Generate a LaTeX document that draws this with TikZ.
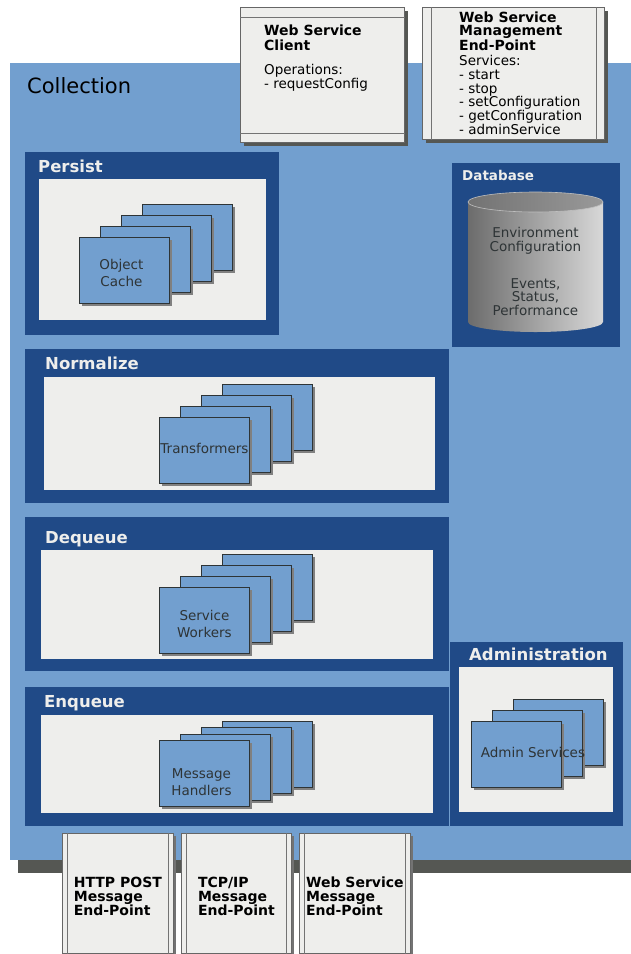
\documentclass[tikz,border=0pt]{standalone}
\usepackage{fontspec}
\setmainfont{DejaVu Sans}
\usetikzlibrary{shadows}

\definecolor{skyblue}{HTML}{729FCF}
\definecolor{navy}{HTML}{204A87}
\definecolor{paper}{HTML}{EEEEEC}
\definecolor{slate}{HTML}{555753}
\definecolor{ink}{HTML}{2E3436}
\definecolor{cylL}{HTML}{6C6C6C}
\definecolor{cylR}{HTML}{D8D8D8}

\begin{document}
\begin{tikzpicture}[x=1pt,y=-1pt,
  panel/.style={fill=navy, draw=none, inner sep=0pt, anchor=north west},
  well/.style={fill=paper, draw=none, inner sep=0pt, anchor=north west},
  card/.style={draw=ink, line width=0.9pt, fill=skyblue, inner sep=0pt,
    minimum width=90pt, minimum height=66pt, anchor=north west,
    drop shadow={shadow xshift=3pt, shadow yshift=-3pt, fill=black!50, opacity=1}},
  cardtext/.style={align=center, text=ink, inner sep=0pt,
    font=\fontsize{13.5}{17}\selectfont},
  title/.style={anchor=base west, inner sep=0pt, text=paper,
    font=\fontsize{16.5}{18}\selectfont\bfseries},
  sheet/.style={fill=paper, draw=black!60, line width=0.8pt, inner sep=0pt,
    anchor=north west,
    drop shadow={shadow xshift=4pt, shadow yshift=-4pt, fill=slate, opacity=1}},
  endpoint/.style={fill=paper, draw=black!60, line width=0.8pt, inner sep=0pt,
    anchor=north west, minimum height=120pt,
    drop shadow={shadow xshift=3pt, shadow yshift=-3pt, fill=black!55, opacity=1}},
  sheetline/.style={draw=black!55, line width=0.7pt},
  eptext/.style={align=left, inner sep=0pt, text=black,
    font=\fontsize{14}{14}\selectfont\bfseries},
]
\useasboundingbox (0,0) rectangle (631,954);

% outer container with its shadow
\fill[slate] (18,76) rectangle (640,873);
\node[panel, fill=skyblue, minimum width=630pt, minimum height=797pt] (collection) at (10,63) {};
\node[anchor=base west, inner sep=0pt, text=black, font=\fontsize{21}{24}\selectfont] (collectiontitle) at (27,93) {Collection};

% Persist
\node[panel, minimum width=254pt, minimum height=183pt] (persist) at (25,152) {};
\node[well, minimum width=227pt, minimum height=141pt] (persistwell) at (39,179) {};
\node[title] (persisttitle) at (38,172) {Persist};
\foreach \i/\x/\y in {4/142/204, 3/121/215, 2/100/226, 1/79/237}
  \node[card] (cache\i) at (\x,\y) {};
\node[cardtext] (cachetext) at ([xshift=-3pt, yshift=-3pt]cache1.center) {Object\\Cache};

% Database
\node[panel, minimum width=168pt, minimum height=184pt] (database) at (452,163) {};
\node[title, font=\fontsize{13.5}{16}\selectfont\bfseries] (dbtitle) at (462,180) {Database};
\shade[left color=cylL, right color=cylR]
  (468,202) -- (468,322) arc[start angle=180, end angle=360, x radius=67.5pt, y radius=10pt]
  -- (603,202) -- cycle;
\shade[left color=black!55, right color=black!40, draw=black!25, line width=0.6pt]
  (535.5,202) ellipse [x radius=67.5pt, y radius=10pt];
\node[cardtext, font=\fontsize{13.5}{14}\selectfont] (envtext) at (535.5,241) {Environment\\Configuration};
\node[cardtext, font=\fontsize{13.5}{13.6}\selectfont] (eventtext) at (535.5,297) {Events,\\Status,\\Performance};

% Normalize
\node[panel, minimum width=424pt, minimum height=154pt] (normalize) at (25,349) {};
\node[well, minimum width=391pt, minimum height=113pt] (normalizewell) at (44,377) {};
\node[title] (normalizetitle) at (45,369) {Normalize};
\foreach \i/\x/\y in {4/222/384, 3/201/395, 2/180/406, 1/159/417}
  \node[card] (trans\i) at (\x,\y) {};
\node[cardtext] (transtext) at ([yshift=2pt]trans1.center) {Transformers};

% Dequeue
\node[panel, minimum width=424pt, minimum height=154pt] (dequeue) at (25,517) {};
\node[well, minimum width=392pt, minimum height=109pt] (dequeuewell) at (41,550) {};
\node[title] (dequeuetitle) at (45,543) {Dequeue};
\foreach \i/\x/\y in {4/222/554, 3/201/565, 2/180/576, 1/159/587}
  \node[card] (worker\i) at (\x,\y) {};
\node[cardtext] (workertext) at ([yshift=-3.5pt]worker1.center) {Service\\Workers};

% Enqueue
\node[panel, minimum width=424pt, minimum height=139pt] (enqueue) at (25,687) {};
\node[well, minimum width=392pt, minimum height=98pt] (enqueuewell) at (41,715) {};
\node[title] (enqueuetitle) at (44,707) {Enqueue};
\foreach \i/\x/\y in {4/222/721, 3/201/727, 2/180/734, 1/159/740}
  \node[card] (handler\i) at (\x,\y) {};
\node[cardtext] (handlertext) at ([xshift=-3pt, yshift=-8.5pt]handler1.center) {Message\\Handlers};

% Administration
\node[panel, minimum width=173pt, minimum height=184pt] (admin) at (450,642) {};
\node[well, minimum width=154pt, minimum height=145pt] (adminwell) at (459,667) {};
\node[title] (admintitle) at (469,660) {Administration};
\foreach \i/\x/\y in {3/513/699, 2/492/710, 1/471/721}
  \node[card] (adminsvc\i) at (\x,\y) {};
\node[cardtext] (adminsvctext) at ([xshift=16.5pt, yshift=2pt]adminsvc1.center) {Admin Services};

% Web service client
\node[sheet, minimum width=164pt, minimum height=135pt] (client) at (240,7) {};
\draw[sheetline] ([yshift=-10pt]client.north west) -- ([yshift=-10pt]client.north east);
\draw[sheetline] ([yshift=9pt]client.south west) -- ([yshift=9pt]client.south east);
\node[anchor=north west, align=left, inner sep=0pt, text=black,
  font=\fontsize{14}{14.5}\selectfont\bfseries] (clienttitle) at (264,25) {Web Service\\Client};
\node[anchor=north west, align=left, inner sep=0pt, text=black,
  font=\fontsize{13.5}{14}\selectfont] (clientops) at (264,64) {Operations:\\- requestConfig};

% Web service management end-point
\node[sheet, minimum width=182pt, minimum height=132pt] (mgmt) at (422,7) {};
\draw[sheetline] ([xshift=9pt]mgmt.north west) -- ([xshift=9pt]mgmt.south west);
\draw[sheetline] ([xshift=-8pt]mgmt.north east) -- ([xshift=-8pt]mgmt.south east);
\node[anchor=north west, align=left, inner sep=0pt, text=black,
  font=\fontsize{14}{13.2}\selectfont\bfseries] (mgmttitle) at (459,11.5) {Web Service\\Management\\End-Point};
\node[anchor=north west, align=left, inner sep=0pt, text=black,
  font=\fontsize{13.5}{13.8}\selectfont] (mgmtservices) at (459,55) {Services:\\- start\\- stop\\- setConfiguration\\- getConfiguration\\- adminService};

% message end-points
\foreach \n/\x/\w/\t in {http/62/111/{HTTP POST\\Message\\End-Point},
                         tcp/181/110/{TCP/IP\\Message\\End-Point},
                         ws/299/111/{Web Service\\Message\\End-Point}} {
  \node[endpoint, minimum width=\w pt] (\n) at (\x,833) {};
  \draw[sheetline] ([xshift=5pt]\n.north west) -- ([xshift=5pt]\n.south west);
  \draw[sheetline] ([xshift=-5.5pt]\n.north east) -- ([xshift=-5.5pt]\n.south east);
  \node[eptext] (\n text) at ([yshift=-3pt]\n.center) {\t};
}
\end{tikzpicture}
\end{document}
